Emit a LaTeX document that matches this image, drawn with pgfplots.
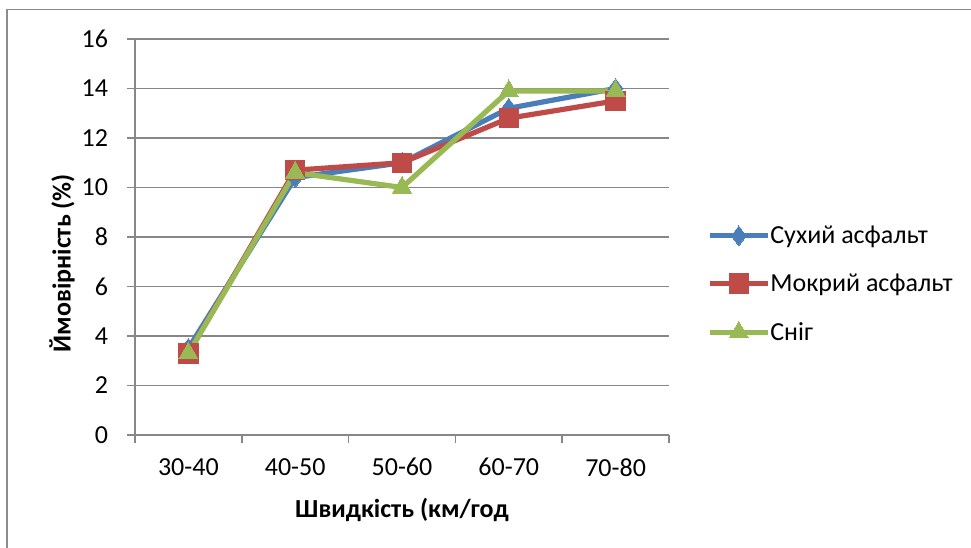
\documentclass[border=0pt]{standalone}
\usepackage{pgfplots}
\pgfplotsset{compat=1.18}
\usepackage{fontspec}
\setmainfont{Carlito}

\definecolor{seriesblue}{HTML}{4A7EBB}
\definecolor{seriesred}{HTML}{BE4B48}
\definecolor{seriesgreen}{HTML}{98B954}
\definecolor{gridgray}{HTML}{878787}
\definecolor{framegray}{HTML}{8C8C8C}

\newcommand{\chartfont}{\fontsize{19.5}{23}\selectfont}

\begin{document}
\begin{tikzpicture}
% page area and outer chart frame
\begin{scope}[x=0.75pt,y=0.75pt]
  \clip (0,0) rectangle (971,548);
  \path[use as bounding box] (0,0) rectangle (971,548);
  \draw[framegray, line width=1.3pt] (7,538.5) rectangle (1000,-30);
\end{scope}
\begin{axis}[
  at={(101.25pt,84.75pt)}, anchor=south west,
  scale only axis, width=400.5pt, height=297pt,
  xmin=-0.5, xmax=4.5, ymin=0, ymax=16,
  xtick={-0.5,0.5,...,4.5},
  x tick label as interval,
  xticklabels={30-40,40-50,50-60,60-70,70-80},
  ytick={0,2,...,16},
  ymajorgrids,
  grid style={gridgray, line width=1.1pt},
  axis x line*=bottom, axis y line*=left,
  axis line style={-, gridgray, line width=1.1pt},
  tick style={gridgray, line width=1.1pt},
  tick align=outside, major tick length=6pt,
  /pgf/number format/assume math mode=true,
  tick label style={font=\chartfont, text=black},
  yticklabel style={xshift=-10.75pt},
  xticklabel style={yshift=-8pt},
  xlabel={Швидкість (км/год},
  ylabel={Ймовірність (\%)},
  every axis x label/.style={at={(axis description cs:0.5,0)}, anchor=center,
    yshift=-56pt, font=\bfseries\chartfont},
  every axis y label/.style={at={(axis description cs:-0.1367,0.434)}, anchor=center,
    rotate=90, font=\bfseries\chartfont},
  legend style={at={(1.071,0.381)}, anchor=west, draw=none, fill=none,
    font=\chartfont, inner sep=0pt, row sep=21pt,
    nodes={inner xsep=0pt, inner ysep=0pt}},
  legend cell align=left,
  legend image code/.code={\draw[mark repeat=2,mark phase=2,#1] plot coordinates {(0pt,0pt) (21.75pt,0pt) (43.5pt,0pt)};},
  every axis plot/.append style={line width=3.9pt, line join=round},
]
\addplot[seriesblue, mark=diamond*, mark size=7.4pt, mark options={solid, fill=seriesblue, draw=seriesblue, line width=0pt}]
  coordinates {(0,3.5) (1,10.4) (2,11.0) (3,13.2) (4,14.0)};
\addlegendentry{Сухий асфальт}
\addplot[seriesred, mark=square*, mark size=7.3pt, mark options={solid, fill=seriesred, draw=seriesred, line width=0pt}]
  coordinates {(0,3.3) (1,10.7) (2,11.0) (3,12.8) (4,13.5)};
\addlegendentry{Мокрий асфальт}
\addplot[seriesgreen, mark=triangle*, mark size=8.3pt, mark options={solid, fill=seriesgreen, draw=seriesgreen, line width=0pt}]
  coordinates {(0,3.3) (1,10.6) (2,10.0) (3,13.9) (4,13.9)};
\addlegendentry{Сніг}
\end{axis}
\end{tikzpicture}
\end{document}
